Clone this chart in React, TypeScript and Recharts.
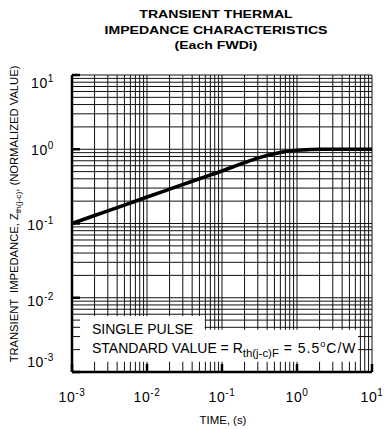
import { LineChart, Line, XAxis, YAxis, CartesianGrid, ReferenceArea } from "recharts";

// (log-log, normalized Zth vs time)
const timeS = [0.001, 0.002, 0.005, 0.01, 0.02, 0.05, 0.1, 0.2, 0.3, 0.5, 0.7, 1, 1.5, 2, 5, 10];
const zthNorm = [0.1, 0.128, 0.177, 0.227, 0.29, 0.4, 0.51, 0.66, 0.76, 0.87, 0.93, 0.97, 0.99, 1.0, 1.0, 1.0];

const gridExps = [-3, -2, -1, 0];
const gridMults = [1, 2, 3, 4, 5, 6, 7, 8, 9];

const FONT = "'Liberation Sans', Arial, Helvetica, sans-serif";

const gridValues = [
  ...gridExps.flatMap((e) => gridMults.map((k) => Number((k * 10 ** e).toPrecision(3)))),
  10,
];

const data = timeS.map((t, i) => ({ t, z: zthNorm[i] }));

const isDecade = (v: number) => Math.abs(Math.log10(v) - Math.round(Math.log10(v))) < 1e-9;
const expOf = (v: number) => Math.round(Math.log10(v));

function Pow({ x, y, e, anchor }: { x: number; y: number; e: number; anchor: "middle" | "end" }) {
  return (
    <text x={x} y={y} textAnchor={anchor} fontSize={14} fill="#000" fontFamily={FONT} letterSpacing={0.6}>
      10
      <tspan dy={-6} fontSize={10}>
        {e}
      </tspan>
    </text>
  );
}

function BottomTick(props: any) {
  const { x, y, payload } = props;
  if (!isDecade(payload.value)) return <g />;
  return (
    <g>
      <line x1={x} x2={x} y1={y} y2={y - 8} stroke="#000" strokeWidth={2.5} />
      <Pow x={x} y={y + 30} e={expOf(payload.value)} anchor="middle" />
    </g>
  );
}

function TopTick(props: any) {
  const { x, y, payload } = props;
  if (!isDecade(payload.value)) return <g />;
  return <line x1={x} x2={x} y1={y} y2={y + 8} stroke="#000" strokeWidth={2.5} />;
}

function LeftTick(props: any) {
  const { x, y, payload } = props;
  if (!isDecade(payload.value)) return <g />;
  const e = expOf(payload.value);
  // end labels are nudged inward like the original
  const shift = e === 1 ? 13 : e === -3 ? -5 : e === -2 ? 8 : 6;
  return (
    <g>
      <line x1={x} x2={x + 8} y1={y} y2={y} stroke="#000" strokeWidth={2.5} />
      <Pow x={x - 18} y={y + shift} e={e} anchor="end" />
    </g>
  );
}

function RightTick(props: any) {
  const { x, y, payload } = props;
  if (!isDecade(payload.value)) return <g />;
  return <line x1={x - 8} x2={x} y1={y} y2={y} stroke="#000" strokeWidth={2.5} />;
}

const frame = { stroke: "#000", strokeWidth: 2.5 };

export default function App() {
  return (
    <div
      style={{
        position: "absolute",
        left: 0,
        top: 0,
        width: 386,
        height: 429,
        background: "#fff",
        fontFamily: FONT,
        color: "#000",
      }}
    >
      <LineChart width={386} height={429} data={data} margin={{ top: 75, right: 14, bottom: 0, left: 0 }}>
        <CartesianGrid stroke="#111" strokeWidth={1} />
        <XAxis
          dataKey="t"
          type="number"
          scale="log"
          domain={[0.001, 10]}
          allowDataOverflow
          ticks={gridValues}
          interval={0}
          height={57}
          tickSize={0}
          tickMargin={0}
          tickLine={false}
          axisLine={frame}
          tick={<BottomTick />}
        />
        <XAxis
          xAxisId="top"
          orientation="top"
          type="number"
          scale="log"
          domain={[0.001, 10]}
          allowDataOverflow
          ticks={gridValues}
          interval={0}
          height={0}
          tickSize={0}
          tickMargin={0}
          tickLine={false}
          axisLine={frame}
          tick={<TopTick />}
        />
        <YAxis
          type="number"
          scale="log"
          domain={[0.001, 10]}
          allowDataOverflow
          ticks={gridValues}
          interval={0}
          width={72}
          tickSize={0}
          tickMargin={0}
          tickLine={false}
          axisLine={frame}
          tick={<LeftTick />}
        />
        <YAxis
          yAxisId="right"
          orientation="right"
          type="number"
          scale="log"
          domain={[0.001, 10]}
          allowDataOverflow
          ticks={gridValues}
          interval={0}
          width={0}
          tickSize={0}
          tickMargin={0}
          tickLine={false}
          axisLine={frame}
          tick={<RightTick />}
        />
        {/* white note box over the grid, stepped like the original */}
        <ReferenceArea x1={0.00128} x2={0.059} y1={0.00137} y2={0.0057} fill="#fff" fillOpacity={1} stroke="none" />
        <ReferenceArea x1={0.059} x2={6.5} y1={0.00137} y2={0.0037} fill="#fff" fillOpacity={1} stroke="none" />
        <Line
          dataKey="z"
          type="monotone"
          stroke="#000"
          strokeWidth={3.6}
          dot={false}
          isAnimationActive={false}
        />
      </LineChart>

      <div
        style={{
          position: "absolute",
          left: 66,
          top: 7,
          width: 300,
          textAlign: "center",
          fontWeight: "bold",
          fontSize: 11,
          lineHeight: "15.5px",
          whiteSpace: "nowrap",
          transform: "scaleX(1.28)",
          transformOrigin: "150px 0",
        }}
      >
        TRANSIENT THERMAL
        <br />
        IMPEDANCE CHARACTERISTICS
        <br />
        (Each FWDi)
      </div>

      <div
        style={{
          position: "absolute",
          left: 15,
          top: 214,
          transform: "translate(-50%, -50%) rotate(-90deg) scaleX(1.12)",
          fontSize: 10,
          lineHeight: "12px",
          whiteSpace: "pre",
        }}
      >
        {"TRANSIENT  IMPEDANCE, Z"}
        <span style={{ fontSize: 7.5, position: "relative", top: 3 }}>th(j-c)</span>
        {", (NORMALIZED VALUE)"}
      </div>

      <div
        style={{
          position: "absolute",
          left: 123,
          top: 415,
          width: 200,
          textAlign: "center",
          fontSize: 10,
          lineHeight: "12px",
          transform: "scaleX(1.14)",
        }}
      >
        TIME, (s)
      </div>

      <div
        style={{
          position: "absolute",
          left: 92,
          top: 320,
          fontSize: 14,
          lineHeight: "18.5px",
          whiteSpace: "nowrap",
        }}
      >
        SINGLE PULSE
        <br />
        STANDARD VALUE = R
        <span style={{ fontSize: 11.4, position: "relative", top: 4 }}>th(j-c)F</span>
        <span style={{ letterSpacing: 1 }}>
          {" = 5.5"}
          <span style={{ fontSize: 9, position: "relative", top: -6 }}>o</span>
          C/W
        </span>
      </div>
    </div>
  );
}
